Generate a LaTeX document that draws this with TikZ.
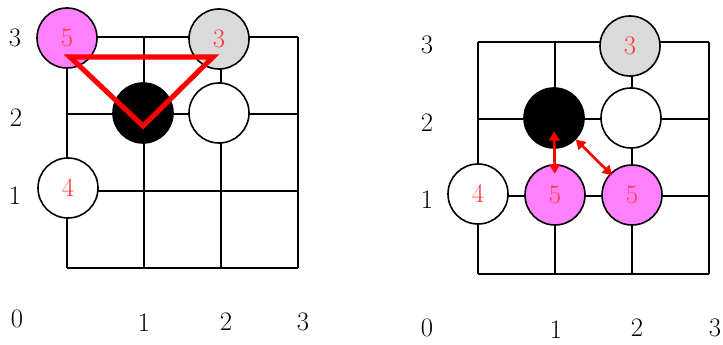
\documentclass[tikz,border=0pt]{standalone}
\usepackage{tikz}
\usetikzlibrary{arrows.meta}

\begin{document}
\begin{tikzpicture}[x=0.75pt,y=-0.75pt,
  stone/.style={circle,draw,line width=1.2pt,minimum size=45pt,inner sep=0pt,
    font=\fontsize{20}{22}\selectfont,text=numred},
  lbl/.style={font=\fontsize{20}{22}\selectfont,inner sep=0pt},
  gridline/.style={line width=0.9pt}]

\definecolor{numred}{RGB}{255,55,55};
\definecolor{pinkst}{RGB}{255,128,255};
\definecolor{greyst}{RGB}{218,218,218};

\useasboundingbox (0,0) rectangle (723,345);

% left board
\foreach \x in {67,144,221,298}
  \draw[gridline] (\x,37) -- (\x,268);
\foreach \y in {37,114,191,268}
  \draw[gridline] (67,\y) -- (298,\y);

\node[stone,fill=pinkst] (lpink) at (67,38) {5};
\node[stone,fill=greyst] (lgrey) at (219,39) {3};
\node[stone,fill=black] (lblack) at (143,113) {};
\node[stone,fill=white] (lwhite) at (219,113) {};
\node[stone,fill=white] (lfour) at (68,188) {4};

\coordinate (tl) at (70,57);
\coordinate (tr) at (213,57);
\coordinate (tb) at (143,126);
\draw[red,line width=3.8pt,line join=miter] (tl) -- (tr) -- (tb) -- cycle;

\node[lbl] (ly3) at (15,38) {3};
\node[lbl] (ly2) at (16,118) {2};
\node[lbl] (ly1) at (15,196) {1};
\node[lbl] (lx0) at (17,319) {0};
\node[lbl] (lx1) at (144,323) {1};
\node[lbl] (lx2) at (226,322) {2};
\node[lbl] (lx3) at (303,322) {3};

% right board
\foreach \x in {478,555,632,709}
  \draw[gridline] (\x,42) -- (\x,274);
\foreach \y in {42,119,196,274}
  \draw[gridline] (478,\y) -- (709,\y);

\node[stone,fill=greyst] (rgrey) at (630,46) {3};
\node[stone,fill=black] (rblack) at (554,118) {};
\node[stone,fill=white] (rwhite) at (631,118) {};
\node[stone,fill=white] (rfour) at (478,194) {4};
\node[stone,fill=pinkst] (rpinka) at (555,195) {5};
\node[stone,fill=pinkst] (rpinkb) at (632,195) {5};

\draw[red,line width=2pt,{Triangle[length=7pt,width=8pt]}-{Triangle[length=7pt,width=8pt]},
  shorten <=10pt,shorten >=16pt] (rblack.center) -- (rpinka.center);
\draw[red,line width=2pt,{Triangle[length=7pt,width=8pt]}-{Triangle[length=7pt,width=8pt]},
  shorten <=23pt,shorten >=21pt] (rblack.center) -- (rpinkb.center);

\node[lbl] (ry3) at (427,45) {3};
\node[lbl] (ry2) at (427,123) {2};
\node[lbl] (ry1) at (427,200) {1};
\node[lbl] (rx0) at (427,328) {0};
\node[lbl] (rx1) at (556,330) {1};
\node[lbl] (rx2) at (637,328) {2};
\node[lbl] (rx3) at (715,328) {3};

\end{tikzpicture}
\end{document}
